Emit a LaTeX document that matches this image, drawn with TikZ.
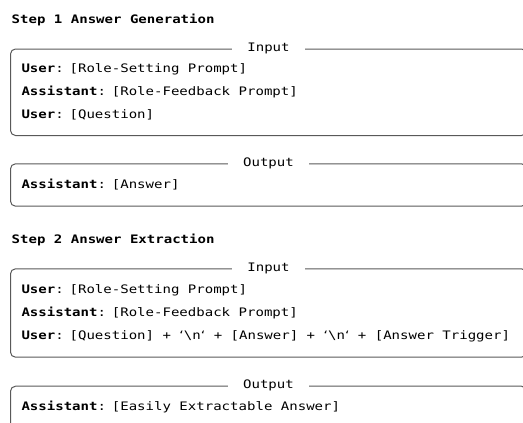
\documentclass[tikz,border=0pt]{standalone}
\usepackage{fontspec}
\setmonofont[FakeStretch=1.2]{DejaVu Sans Mono}
\newfontfamily\quotefont[FakeStretch=1.2]{DejaVu Sans}
\newcommand\tickq{{\quotefont ‘}}
\newcommand\monotext{\ttfamily\fontsize{11.7}{23}\selectfont}

\tikzset{
  steptitle/.style={anchor=west, inner sep=0pt, font=\monotext\bfseries},
  iobox/.style={draw=black!65, line width=1pt, rounded corners=5pt,
    anchor=north west, text width=494pt, inner xsep=11pt, inner ysep=0pt,
    align=left, font=\monotext,
    execute at begin node={\spaceskip=8.45pt\relax}},
  iolabel/.style={fill=white, inner xsep=15pt, inner ysep=1pt, font=\monotext},
}

\begin{document}
\begin{tikzpicture}[x=1pt,y=1pt]
  \useasboundingbox (0,0) rectangle (523,-423);
  % step 1
  \node[steptitle] (head1) at (11.5,-20) {Step 1 Answer Generation};
  \node[iobox, minimum height=86.5pt] (in1) at (10,-48.5)
    {\textbf{User}: [Role-Setting Prompt]\\
     \textbf{Assistant}: [Role-Feedback Prompt]\\
     \textbf{User}: [Question]};
  \node[iolabel] (in1lab) at (in1.north) {Input};
  \node[iobox, minimum height=42.4pt] (out1) at (10,-163.3)
    {\textbf{Assistant}: [Answer]};
  \node[iolabel] (out1lab) at (out1.north) {Output};
  % step 2
  \node[steptitle] (head2) at (11.5,-239.5) {Step 2 Answer Extraction};
  \node[iobox, minimum height=88.4pt] (in2) at (10,-268.3)
    {\textbf{User}: [Role-Setting Prompt]\\
     \textbf{Assistant}: [Role-Feedback Prompt]\\
     \textbf{User}: [Question] + \tickq\textbackslash n\tickq{} + [Answer] + \tickq\textbackslash n\tickq{} + [Answer Trigger]};
  \node[iolabel] (in2lab) at (in2.north) {Input};
  \node[iobox, minimum height=42.4pt] (out2) at (10,-385.7)
    {\textbf{Assistant}: [Easily Extractable Answer]};
  \node[iolabel] (out2lab) at (out2.north) {Output};
\end{tikzpicture}
\end{document}
